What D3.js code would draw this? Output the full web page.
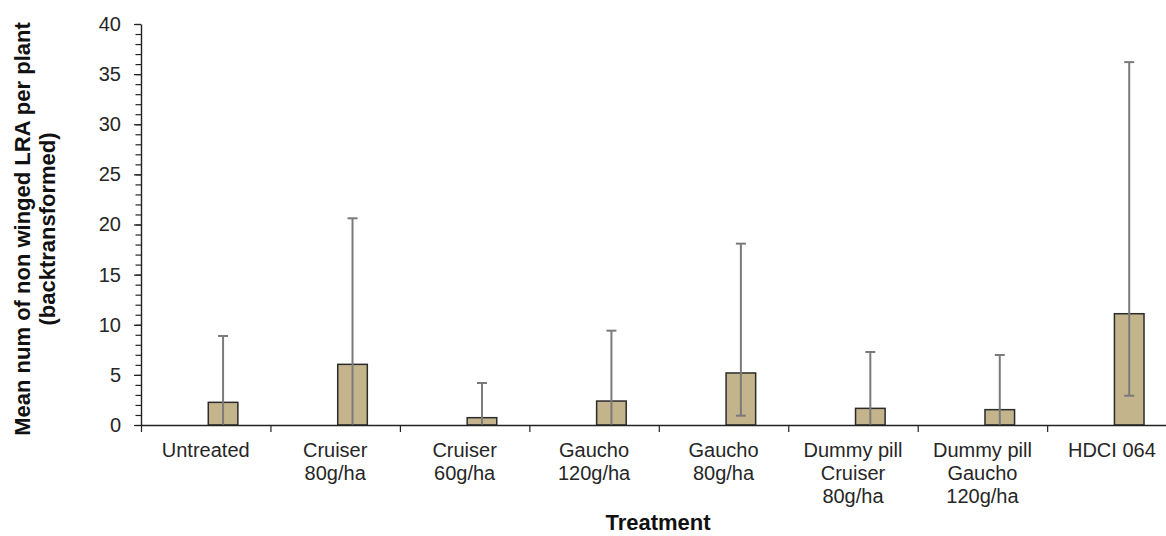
<!DOCTYPE html>
<html>
<head>
<meta charset="utf-8">
<script src="https://cdn.jsdelivr.net/npm/d3@7"></script>
<style>
  html, body { margin: 0; padding: 0; background: #fff; overflow: hidden; }
  svg { display: block; font-family: "Liberation Sans", Arial, sans-serif; }
</style>
</head>
<body>
<svg id="chart" width="1166" height="536"></svg>
<script>
// ---- data ----
const categories = ["Untreated", "Cruiser\n80g/ha", "Cruiser\n60g/ha", "Gaucho\n120g/ha", "Gaucho\n80g/ha", "Dummy pill\nCruiser\n80g/ha", "Dummy pill\nGaucho\n120g/ha", "HDCI 064"];
const means = [2.26, 6.05, 0.73, 2.39, 5.19, 1.66, 1.53, 11.1];
const upper = [8.88, 20.62, 4.19, 9.41, 18.09, 7.28, 6.98, 36.2];
const lower = [0, 0, 0, 0, 0.93, 0, 0, 2.92];
const yTicks = [0, 5, 10, 15, 20, 25, 30, 35, 40];
const yMinorTicks = d3.range(0, 41, 1);
const yTitle = ["Mean num of non winged LRA per plant", "(backtransformed)"];
const xTitle = "Treatment";

// ---- layout ----
const svg = d3.select("#chart");
const plotLeft = 141, plotRight = 1176.6, plotTop = 24, plotBottom = 425;

const x = d3.scaleBand().domain(categories).range([plotLeft, plotRight]).paddingInner(0).paddingOuter(0);
const y = d3.scaleLinear().domain([0, 40]).range([plotBottom, plotTop]);
const bw = x.bandwidth();
const barW = bw * 0.2286;
const barC = d => x(d) + bw / 2 + bw * 0.134;

const data = categories.map((c, i) => ({ c, m: means[i], hi: upper[i], lo: lower[i] }));

// bars
svg.append("g").selectAll("rect").data(data).join("rect")
  .attr("x", d => barC(d.c) - barW / 2)
  .attr("y", d => y(d.m))
  .attr("width", barW)
  .attr("height", d => y(0) - y(d.m))
  .attr("fill", "#c4b48c")
  .attr("stroke", "#2b2b2b")
  .attr("stroke-width", 1.5);

// error bars
const eg = svg.append("g").attr("stroke", "#7a7a7a").attr("stroke-width", 2);
eg.selectAll("line.v").data(data).join("line").attr("class", "v")
  .attr("x1", d => barC(d.c)).attr("x2", d => barC(d.c))
  .attr("y1", d => y(d.hi)).attr("y2", d => y(d.lo));
eg.selectAll("line.cap").data(data).join("line").attr("class", "cap")
  .attr("x1", d => barC(d.c) - 5).attr("x2", d => barC(d.c) + 5)
  .attr("y1", d => y(d.hi)).attr("y2", d => y(d.hi));
eg.selectAll("line.capl").data(data.filter(d => d.lo > 0)).join("line").attr("class", "capl")
  .attr("x1", d => barC(d.c) - 5).attr("x2", d => barC(d.c) + 5)
  .attr("y1", d => y(d.lo)).attr("y2", d => y(d.lo));

// y axis minor ticks
svg.append("g").attr("transform", `translate(${plotLeft},0)`)
  .call(d3.axisLeft(y).tickValues(yMinorTicks).tickSize(5.5).tickFormat(""))
  .call(g => g.select(".domain").remove())
  .call(g => g.selectAll("line").attr("stroke", "#222").attr("stroke-width", 1.2));

// y axis major
svg.append("g").attr("transform", `translate(${plotLeft},0)`)
  .call(d3.axisLeft(y).tickValues(yTicks).tickSize(7).tickPadding(13).tickSizeOuter(0))
  .call(g => g.select(".domain").attr("stroke", "#222").attr("stroke-width", 1.4))
  .call(g => g.selectAll("line").attr("stroke", "#222").attr("stroke-width", 1.2))
  .call(g => g.selectAll("text").attr("font-size", 20).attr("fill", "#262626").attr("font-family", "Liberation Sans, Arial, sans-serif"));

// x axis
const xb = d3.scaleLinear().domain([0, categories.length]).range([plotLeft, plotRight]);
svg.append("g").attr("transform", `translate(0,${plotBottom})`)
  .call(d3.axisBottom(xb).tickValues(d3.range(0, categories.length + 1)).tickSize(7).tickFormat("").tickSizeOuter(0))
  .call(g => g.select(".domain").attr("stroke", "#222").attr("stroke-width", 1.4))
  .call(g => g.selectAll("line").attr("stroke", "#222").attr("stroke-width", 1.2));

// x labels
const xl = svg.append("g").attr("font-size", 20).attr("fill", "#262626").attr("text-anchor", "middle");
categories.forEach(c => {
  const t = xl.append("text").attr("x", x(c) + bw / 2).attr("y", 457);
  c.split("\n").forEach((line, i) => {
    t.append("tspan").attr("x", x(c) + bw / 2).attr("dy", i === 0 ? 0 : 23).text(line);
  });
});

// x title
svg.append("text").attr("x", 658).attr("y", 530).attr("text-anchor", "middle")
  .attr("font-size", 22).attr("font-weight", "bold").attr("fill", "#111").text(xTitle);

// y title
const yt = svg.append("text").attr("transform", "translate(30,229) rotate(-90)")
  .attr("text-anchor", "middle").attr("font-size", 22).attr("font-weight", "bold").attr("fill", "#111");
yTitle.forEach((line, i) => {
  yt.append("tspan").attr("x", 0).attr("dy", i === 0 ? 0 : 25).text(line);
});
</script>
</body>
</html>
